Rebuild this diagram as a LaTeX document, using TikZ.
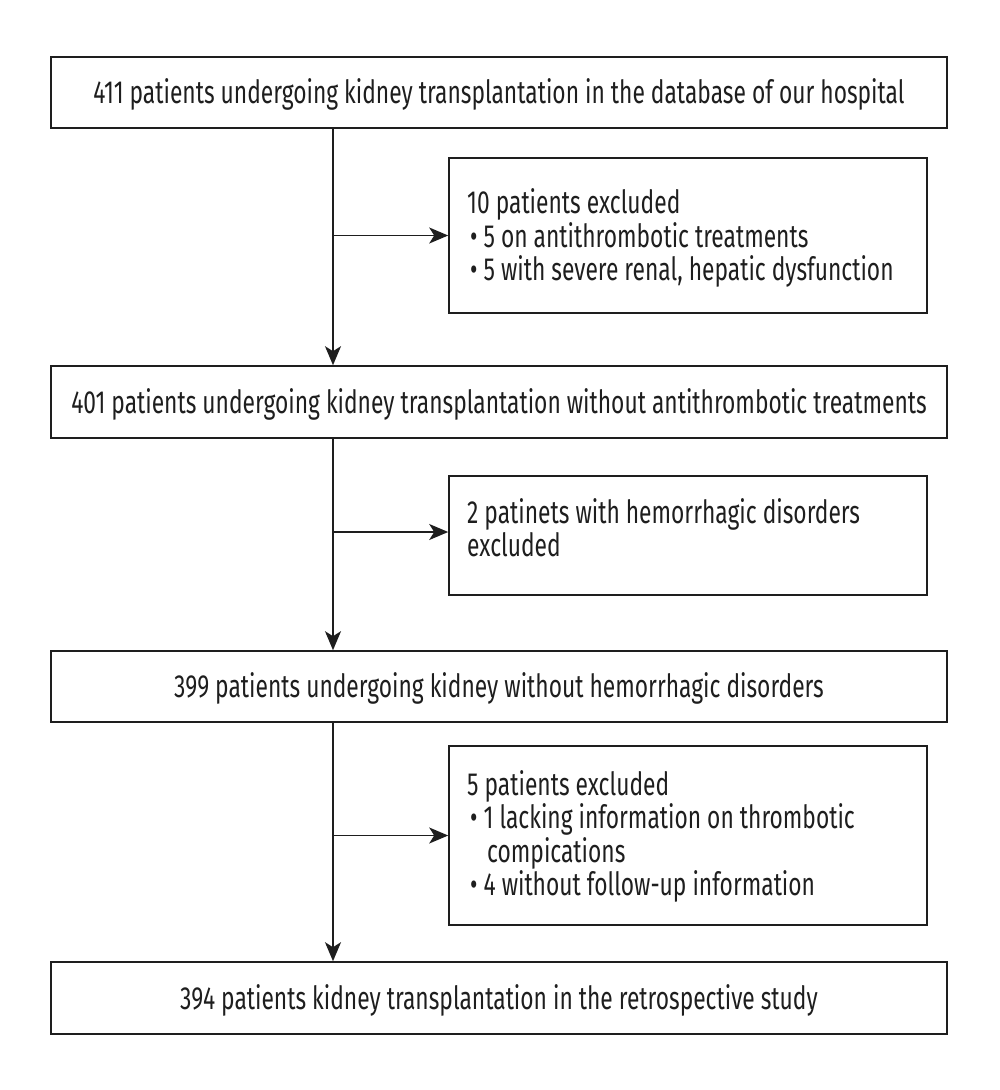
\documentclass[tikz,border=0pt]{standalone}
\usepackage{fontspec}
\setmainfont{Fira Sans}[FakeStretch=0.712]
\usetikzlibrary{arrows.meta}
\definecolor{ink}{HTML}{1E1E1E}
\begin{document}
\begin{tikzpicture}[x=1pt,y=-1pt,
  font=\fontsize{32}{33.5}\selectfont,
  mainbox/.style={draw=ink, line width=1.6pt, minimum width=896pt, inner sep=0pt, text height=22pt, text depth=0pt, text=ink},
  sidebox/.style={draw=ink, line width=1.6pt, minimum width=478pt, inner sep=0pt},
  txtline/.style={anchor=base west, inner sep=0pt, text=ink},
  arr/.style={draw=ink, line width=1.6pt, -{Stealth[length=19pt,width=16pt,inset=5pt]}}]
\useasboundingbox (0,0) rectangle (1000,1090);
% main boxes
\node[mainbox, minimum height=71pt] (b1) at (499,92.5) {411 patients undergoing kidney transplantation in the database of our hospital};
\node[mainbox, minimum height=72pt] (b2) at (499,402) {401 patients undergoing kidney transplantation without antithrombotic treatments};
\node[mainbox, minimum height=71pt] (b3) at (499,686.5) {399 patients undergoing kidney without hemorrhagic disorders};
\node[mainbox, minimum height=72pt] (b4) at (499,998) {394 patients kidney transplantation in the retrospective study};
% side boxes
\node[sidebox, minimum height=155pt] (sa) at (688,235.5) {};
\node[sidebox, minimum height=119pt] (sb) at (688,535.5) {};
\node[sidebox, minimum height=179pt] (sc) at (688,835.5) {};
% side texts
\node[txtline] (ta1) at (467,213) {10 patients excluded};
\node[txtline] (ta2) at (470,247) {• 5 on antithrombotic treatments};
\node[txtline] (ta3) at (470,280) {• 5 with severe renal, hepatic dysfunction};
\node[txtline] (tb1) at (467,523) {2 patinets with hemorrhagic disorders};
\node[txtline] (tb2) at (467,556) {excluded};
\node[txtline] (tc1) at (467,795) {5 patients excluded};
\node[txtline] (tc2) at (470,828) {• 1 lacking information on thrombotic};
\node[txtline] (tc3) at (487,862) {compications};
\node[txtline] (tc4) at (470,895) {• 4 without follow-up information};
% connectors
\draw[arr] ([xshift=-166pt]b1.south) -- ([xshift=-166pt]b2.north);
\draw[arr] ([xshift=-166pt]b2.south) -- ([xshift=-166pt]b3.north);
\draw[arr] ([xshift=-166pt]b3.south) -- ([xshift=-166pt]b4.north);
\draw[arr] ([xshift=-166pt]b1.south |- sa.west) -- (sa.west);
\draw[arr] ([xshift=-166pt,yshift=3.5pt]b1.south |- sb.west) -- ([yshift=3.5pt]sb.west);
\draw[arr] ([xshift=-166pt]b1.south |- sc.west) -- (sc.west);
\end{tikzpicture}
\end{document}
